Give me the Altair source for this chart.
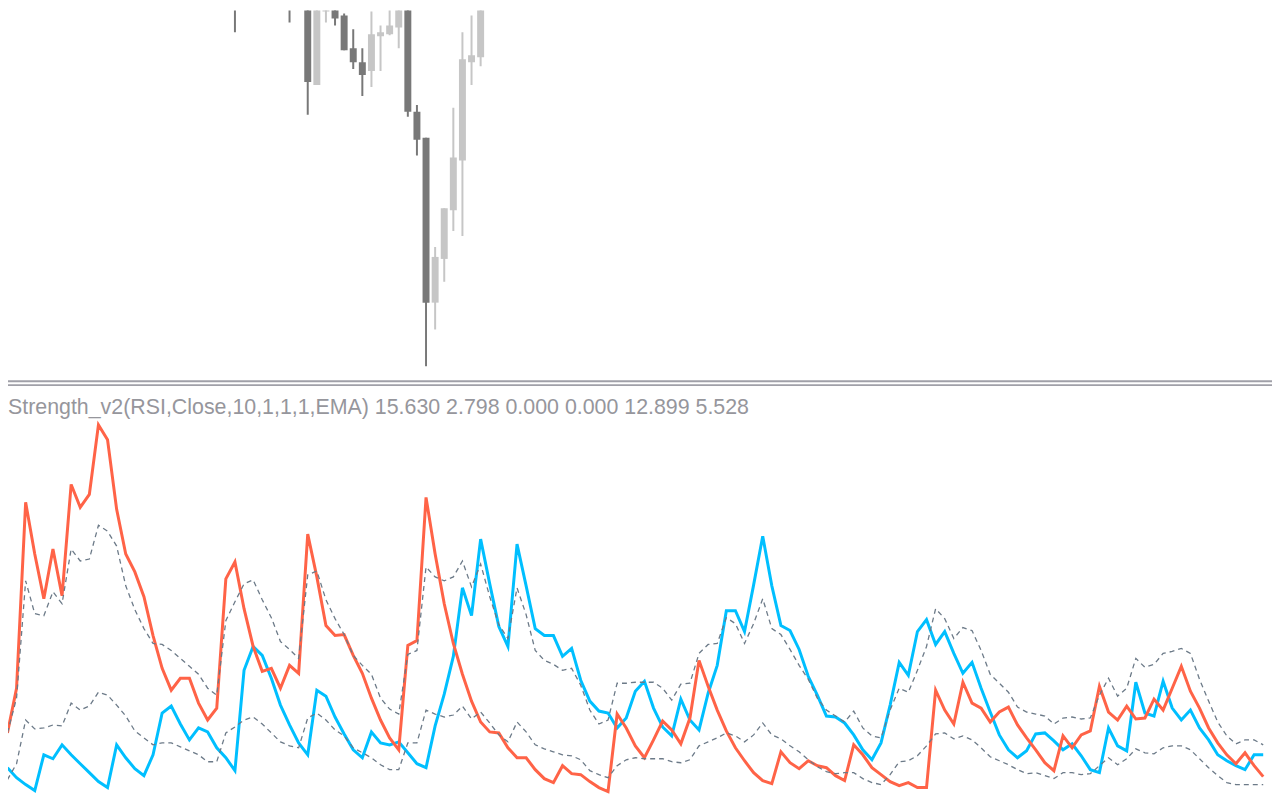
import altair as alt
import pandas as pd
import numpy as np

# ---------------- price panel (candles) ----------------
candle_bar = list(range(25, 56))
c_open = [1.0870, 1.0852, 1.0875, 1.0900, 1.0890, 1.0915, 1.0895, 1.0855, 1.0880, 1.0767,
          1.0841, 1.0860, 1.0837, 1.0804, 1.0790, 1.0781, 1.0816, 1.0818, 1.0825, 1.0860,
          1.0740, 1.0714, 1.0548, 1.0592, 1.0641, 1.0691, 1.0790, 1.0795, 1.0865, 1.0880, 1.0858]
c_high = [1.0880, 1.0880, 1.0910, 1.0920, 1.0925, 1.0930, 1.0905, 1.0890, 1.0885, 1.0848,
          1.0870, 1.0865, 1.0839, 1.0823, 1.0804, 1.0841, 1.0827, 1.0846, 1.0865, 1.0865,
          1.0747, 1.0714, 1.0604, 1.0643, 1.0744, 1.0820, 1.0837, 1.0875, 1.0890, 1.0890, 1.0885]
c_low = [1.0820, 1.0846, 1.0865, 1.0885, 1.0880, 1.0890, 1.0830, 1.0852, 1.0737, 1.0767,
         1.0830, 1.0827, 1.0802, 1.0783, 1.0756, 1.0765, 1.0781, 1.0817, 1.0804, 1.0735,
         1.0696, 1.0484, 1.0521, 1.0569, 1.0620, 1.0615, 1.0767, 1.0786, 1.0858, 1.0846, 1.0848]
c_close = [1.0848, 1.0875, 1.0900, 1.0890, 1.0915, 1.0895, 1.0855, 1.0880, 1.0770, 1.0843,
           1.0865, 1.0834, 1.0802, 1.0790, 1.0777, 1.0818, 1.0820, 1.0827, 1.0860, 1.0740,
           1.0712, 1.0548, 1.0594, 1.0643, 1.0694, 1.0793, 1.0797, 1.0865, 1.0880, 1.0860, 1.0875]

# ---------------- indicator panel ----------------
bar_idx = list(range(139))
bears = [16.25, 27.5, 74.25, 61.25, 50, 62.5, 50.75, 78.75, 73, 76.25,
         93.75, 90, 72.5, 61.25, 56.75, 50.5, 40.75, 32.5, 27, 30,
         30, 23.75, 19.5, 22.5, 55, 59.25, 47.5, 38, 31.75, 32.5,
         27.5, 33.25, 31.25, 66.25, 55.5, 43.25, 40.75, 41, 35.75, 31.25,
         25, 19.5, 15, 12, 38.25, 39.5, 75.5, 61.25, 48.75, 38.75,
         31, 24.25, 19, 16.5, 16.25, 12.5, 10, 10, 7, 4.75,
         3.75, 8, 6, 5.75, 4, 2.5, 1.5, 21, 17.5, 13,
         10, 14.5, 19.25, 17, 13.5, 20, 34.5, 28, 22, 16.75,
         12.5, 9.25, 6.25, 4.25, 3.5, 11.5, 8.75, 7.25, 9.25, 8,
         7.5, 5.5, 4.25, 13.25, 10.75, 7.5, 5.75, 4, 3, 3.75,
         2.5, 2.5, 27, 22, 18.5, 29, 23.75, 22.5, 19, 21.5,
         22.75, 18.25, 15, 12, 8.75, 6.75, 15.5, 12.5, 15.75, 16.75,
         28, 21.5, 19.5, 23, 19.75, 20, 24.75, 22, 27.5, 33,
         26.75, 22.5, 17.5, 13.75, 10.75, 8.5, 11.25, 8, 5.25]
bulls = [7.5, 5, 3.25, 1.75, 10.75, 9.75, 13.25, 10.75, 8.5, 6.25,
         4, 2.5, 13.25, 10, 7.25, 5.5, 10.75, 21.25, 23, 18.5,
         14.5, 17.5, 16.5, 12.5, 10, 6.75, 32, 38, 35.75, 30,
         23.25, 18.25, 13.75, 10.75, 27, 25.5, 20.25, 16, 12, 10,
         16.5, 13.75, 13.25, 14, 11.25, 8.5, 7.5, 18, 26, 35.5,
         52.75, 45.75, 65, 53.75, 43, 38, 63.75, 53.25, 42.5, 40.75,
         40.75, 35.5, 37.5, 29.5, 24.25, 21.75, 21.25, 17.5, 20, 26.75,
         29.25, 22.5, 17.75, 15.5, 24.75, 19.5, 17, 26.25, 33.25, 47,
         47, 41.75, 53.5, 65.75, 53.25, 43.25, 42, 37.25, 30.5, 25.75,
         20.5, 20.25, 18.75, 15.75, 12, 9.5, 13.75, 23.25, 34, 30.75,
         41.75, 44.75, 38.5, 41.75, 36.25, 31.25, 34, 27.5, 21.5, 15.75,
         12, 10, 11.75, 16, 16.25, 14.25, 12, 13.5, 10.5, 7,
         6.25, 17.5, 13, 11.75, 29, 21.25, 20.5, 29.25, 22.5, 19.5,
         22, 17.5, 14.5, 10.75, 9.25, 8, 7, 10.75, 10.75]
upper = [16.25, 25, 54.5, 46.25, 45.75, 51.75, 48.75, 62.5, 59.5, 60,
         68.5, 67, 63.25, 53.25, 47.25, 42.5, 38.75, 38.5, 37, 35,
         33, 31, 27.5, 25.75, 44.5, 49.25, 53.75, 54.75, 49.75, 45.25,
         39.25, 37.25, 35, 56, 57, 49.75, 45, 41, 35.75, 33.25,
         31, 25, 22.25, 21, 36, 37, 58, 55.5, 54.5, 55.5,
         59.5, 53, 58.75, 50.5, 43.5, 40, 52.75, 46, 37, 34.5,
         33.5, 32, 32.5, 28.25, 22, 18.5, 19.5, 28.75, 28.75, 29,
         29, 29, 27.5, 24.5, 28.5, 28.75, 36.25, 38.5, 38.75, 45.25,
         43.75, 38.75, 43.75, 50, 42.5, 41, 37.25, 33.25, 29.75, 25,
         22, 20.5, 19, 21.75, 17.5, 15.5, 15, 22, 27.5, 26.5,
         32, 38, 47.5, 45, 40, 42.75, 42, 37, 31, 28.75,
         26.5, 22.75, 21.5, 21, 20.5, 18.5, 20, 20.25, 19.75, 20,
         25.75, 30, 25.5, 27.5, 35, 32.75, 33.5, 36.25, 36.75, 37.5,
         36.25, 29.75, 24.25, 19, 15.5, 13.5, 14.5, 14.5, 13.25]
lower = [4.5, 8.5, 19.5, 17.25, 17.5, 18.25, 18, 23.75, 22, 23,
         26.5, 25.75, 23.25, 20.5, 16.75, 15, 13.25, 13.75, 13.75, 12.75,
         11.75, 10.75, 9, 9, 16.25, 17.75, 19.5, 20.25, 18.5, 16.25,
         14, 13, 12.5, 20, 21.25, 19.5, 17, 15.5, 12.5, 11.25,
         10, 8.25, 7, 7, 13.75, 13.75, 22, 21, 20.25, 20.75,
         23, 19.75, 21.5, 18.75, 15.75, 14, 19, 16.5, 13.25, 12.25,
         11.5, 10.75, 10.5, 9.5, 6.75, 5.75, 5, 8, 9.5, 10,
         9.75, 9.75, 9.75, 9, 8.75, 9.5, 13, 14, 15, 16.25,
         15.5, 14, 15.75, 18.75, 15.75, 14.75, 13, 11.5, 9.5, 7.75,
         6.5, 6, 6.25, 6.25, 4.75, 3.75, 3.25, 5.75, 9, 9.25,
         10.5, 13, 16, 16.25, 14.75, 15.5, 14.5, 12.5, 10.25, 9.25,
         8.25, 7, 6, 6.25, 5.5, 4.75, 6.25, 6.25, 5.75, 6,
         8, 10, 8.25, 9.75, 12.25, 11.25, 11, 12.5, 13, 13,
         12, 9.75, 7.5, 5.5, 3.75, 3.25, 3.25, 3.25, 3.25]

LABEL = "Strength_v2(RSI,Close,10,1,1,1,EMA) 15.630 2.798 0.000 0.000 12.899 5.528"

W, H = 1272, 792

cdf = pd.DataFrame({"bar": candle_bar, "open": c_open, "high": c_high,
                    "low": c_low, "close": c_close})
cdf["dir"] = np.where(cdf["close"] >= cdf["open"], "up", "down")

idf = pd.DataFrame({"bar": bar_idx, "bears": bears, "bulls": bulls,
                    "upper": upper, "lower": lower})

xs = alt.Scale(domain=[0.6067, 138.42], nice=False, zero=False)
xenc = alt.X("bar:Q", scale=xs, axis=None)
yP = alt.Scale(domain=[1.0050, 1.0842], nice=False, zero=False)
yI = alt.Scale(domain=[0, 198], nice=False, zero=False)
ccol = alt.Color("dir:N", scale=alt.Scale(domain=["up", "down"], range=["#c6c6c6", "#787878"]), legend=None)

wick = alt.Chart(cdf).mark_rule(strokeWidth=2, clip=True).encode(
    x=xenc, y=alt.Y("low:Q", scale=yP, axis=None), y2="high:Q", color=ccol)
body = alt.Chart(cdf).mark_bar(width=7, clip=True).encode(
    x=xenc, y=alt.Y("open:Q", scale=yP, axis=None), y2="close:Q", color=ccol)


def line(field, color, width, dash=None):
    kw = dict(color=color, strokeWidth=width, clip=True, strokeJoin="miter", strokeCap="butt")
    if dash:
        kw["strokeDash"] = dash
    return alt.Chart(idf).mark_line(**kw).encode(
        x=xenc, y=alt.Y(f"{field}:Q", scale=yI, axis=None))


blue = line("bulls", "#00bfff", 3)
red = line("bears", "#ff6347", 3)
up_l = line("upper", "#6c7a88", 1.3, [5, 4])
lo_l = line("lower", "#6c7a88", 1.3, [5, 4])

one = pd.DataFrame({"label": [LABEL]})
sep1 = alt.Chart(one).mark_rule(color="#a0a0a8", strokeWidth=2).encode(
    x=alt.value(0), x2=alt.value(W), y=alt.value(373))
sep2 = alt.Chart(one).mark_rule(color="#a0a0a8", strokeWidth=2).encode(
    x=alt.value(0), x2=alt.value(W), y=alt.value(377))
txt = alt.Chart(one).mark_text(align="left", baseline="alphabetic", font="Liberation Sans",
                               fontSize=21.5, color="#96969c").encode(
    x=alt.value(0), y=alt.value(406), text="label:N")

chart = alt.layer(wick, body, blue, red, up_l, lo_l, sep1, sep2, txt).resolve_scale(
    y="independent", color="independent"
).properties(
    width=W, height=H, padding=0, autosize=alt.AutoSizeParams(type="none")
).configure_view(stroke=None)

chart.save("out.html", embed_options={"renderer": "svg", "actions": False})
